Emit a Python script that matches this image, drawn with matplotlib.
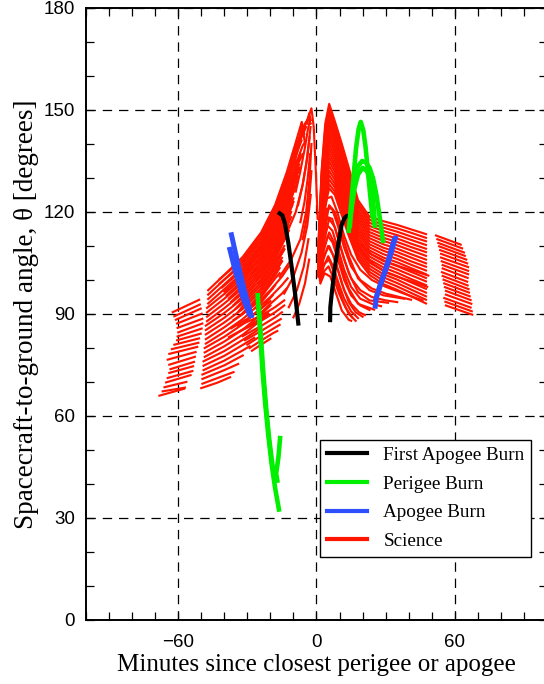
import numpy as np
import matplotlib
matplotlib.use("Agg")
import matplotlib.pyplot as plt
from matplotlib.lines import Line2D
from matplotlib.ticker import MultipleLocator

# ---------------- data (minutes, degrees) ----------------
# far-left science block: each pass is a short segment (start -> end)
farleft_x0 = [-62.8, -62.1, -61.4, -60.9, -60.7, -60.4, -60.7, -60.9, -62.1, -63.2,
              -64.3, -65.0, -64.3, -63.8, -64.3, -65.0, -65.7, -66.4, -67.2, -68.6]
farleft_y0 = [90.4, 89.2, 88.2, 87.1, 85.8, 84.5, 83.3, 82.2, 80.9, 79.6,
              78.2, 76.5, 75.0, 73.7, 72.6, 71.1, 69.8, 68.4, 67.2, 65.9]
farleft_x1 = [-50.5, -50.2, -49.8, -49.4, -49.1, -49.1, -49.4, -49.8, -50.5, -50.8,
              -51.3, -52.0, -52.3, -52.7, -53.1, -53.4, -54.2, -56.0, -56.6, -57.0]
farleft_y1 = [94.3, 92.9, 91.7, 90.2, 88.7, 87.3, 85.8, 84.3, 82.9, 81.6,
              80.4, 78.9, 77.5, 76.0, 74.7, 73.3, 72.1, 70.1, 68.4, 68.1]

# far-right science block
farright_x0 = [51.4, 52.0, 52.4, 52.8, 53.2, 53.6, 53.6, 53.9, 54.3, 54.3,
               54.0, 54.3, 54.7, 55.0, 55.3, 55.7, 55.7, 55.0, 55.5, 55.7]
farright_y0 = [113.2, 112.1, 111.0, 110.0, 108.9, 107.8, 106.7, 105.6, 104.5, 103.5,
               102.4, 101.3, 100.2, 99.1, 98.0, 96.9, 95.8, 94.8, 93.7, 92.6]
farright_x1 = [63.0, 63.6, 64.4, 64.8, 65.4, 65.8, 66.2, 66.2, 66.2, 66.0,
               65.8, 66.0, 66.4, 66.6, 66.9, 67.3, 67.6, 67.3, 67.8, 68.0]
farright_y1 = [110.3, 109.2, 108.0, 107.0, 105.9, 104.8, 103.7, 102.6, 101.6, 100.5,
               99.4, 98.3, 97.2, 96.2, 95.1, 94.0, 92.9, 91.8, 90.7, 89.7]

# science passes before perigee/apogee (rising fan)
left_fan = [
    [(-47, 97), (-40, 101.5), (-32, 106.8), (-24, 114), (-18, 122), (-13, 131.5), (-9, 140.5), (-6.4, 146.5), (-5.3, 143)],
    [(-47, 95.7), (-40, 100.1), (-32, 105.3), (-24, 112.3), (-18, 120), (-13, 129.2), (-9, 137.9), (-6, 143.5), (-3.5, 148), (-2.2, 150.5), (-1.2, 145), (-0.3, 132), (0.5, 118)],
    [(-47, 94.4), (-40, 98.7), (-32, 103.7), (-24, 110.6), (-18, 118.1), (-13, 127), (-10.1, 137.7), (-8.5, 134)],
    [(-47, 93.1), (-40, 97.3), (-32, 102.2), (-24, 108.8), (-18, 116.1), (-13, 124.7), (-9, 132.8), (-6, 137)],
    [(-47.5, 91.8), (-40, 95.9), (-32, 100.7), (-24, 107.1), (-18, 114.1), (-13, 122.4), (-9, 130.2), (-7, 133)],
    [(-47.5, 90.5), (-40, 94.5), (-32, 99.2), (-24, 105.4), (-18, 112.2), (-13, 120.1), (-9, 127.7)],
    [(-47.5, 89.2), (-40, 93.1), (-32, 97.6), (-24, 103.7), (-18, 110.2), (-13, 117.9), (-10, 123)],
    [(-47.5, 87.9), (-40, 91.7), (-32, 96.1), (-24, 102), (-18, 108.2), (-13, 115.6), (-11, 118.5)],
    [(-48, 86.6), (-40, 90.3), (-32, 94.6), (-24, 100.2), (-18, 106.3), (-13, 113.3)],
    [(-48, 85.3), (-40, 88.9), (-32, 93.1), (-24, 98.5), (-18, 104.3), (-14, 109)],
    [(-48, 84), (-40, 87.5), (-32, 91.5), (-24, 96.8), (-18, 102.3), (-15, 105.5)],
    [(-48, 82.6), (-40, 86.1), (-32, 90), (-24, 95.1), (-18, 100.4), (-16, 102)],
    [(-48, 81.3), (-40, 84.7), (-32, 88.5), (-24, 93.4), (-18, 98.4)],
    [(-48.5, 80), (-40, 83.3), (-32, 87), (-24, 91.7), (-19, 95.5)],
    [(-48.5, 78.7), (-40, 81.9), (-32, 85.4), (-24, 89.9), (-20, 92.5)],
    [(-48.5, 77.4), (-40, 80.5), (-32, 83.9), (-24, 88.2), (-21, 90)],
    [(-49, 76.1), (-40, 79.1), (-32, 82.4), (-25, 85.5)],
    [(-49, 74.8), (-40, 77.7), (-32, 80.9), (-27, 83)],
    [(-49, 73.5), (-40, 76.3), (-32, 79.3), (-29, 80.5)],
    [(-49.5, 72.2), (-40, 74.9), (-32, 77.8)],
    [(-49.5, 70.9), (-40, 73.5), (-34, 75.3)],
    [(-49.5, 69.5), (-40, 71.9), (-36, 72.9)],
    [(-50, 68.2), (-43, 69.8), (-37.5, 71.4)],
    [(-42, 100.3), (-32, 106), (-24, 113.2), (-18, 121), (-13, 130.3), (-9, 139.2), (-7, 143), (-5, 146), (-3.5, 147.5), (-2.5, 146)],
    [(-42, 99), (-32, 104.5), (-24, 111.5), (-18, 119), (-13, 128.1), (-9, 136.6), (-6.5, 141)],
    [(-41, 97.8), (-32, 103), (-24, 109.7), (-18, 117.1), (-13, 125.9), (-9, 134), (-6, 139.5), (-4.5, 141)],
    [(-40, 96.6), (-32, 101.5), (-24, 108), (-18, 115.1), (-13, 123.5), (-9, 131.5), (-7.5, 134)],
    [(-39, 95.5), (-32, 100), (-24, 106.3), (-18, 113.2), (-13, 121.2), (-9, 129), (-8, 130.5)],
    [(-38, 94.6), (-32, 98.4), (-24, 104.5), (-18, 111.2), (-13, 119), (-10, 124)],
    [(-37, 93.6), (-32, 96.8), (-24, 102.8), (-18, 109.2), (-13, 116.7), (-11, 120)],
    [(-36, 92.6), (-32, 95.3), (-24, 101.1), (-18, 107.3), (-13, 114.4), (-12, 116)],
    [(-35, 91.6), (-32, 93.8), (-24, 99.3), (-18, 105.3), (-14, 110)],
    [(-34, 90.6), (-32, 92.3), (-24, 97.6), (-18, 103.3), (-15, 106.5)],
    [(-33, 89.6), (-24, 96), (-18, 101.3), (-16, 103.5)],
    [(-30, 104), (-24, 110.5), (-18, 118), (-13, 127), (-9, 136), (-6.5, 142), (-4.5, 145)],
    [(-30, 102.8), (-24, 109), (-18, 116), (-13, 124.8), (-9, 133.2), (-7, 137)],
    [(-29, 102.5), (-24, 107.2), (-18, 114.2), (-13, 122.5), (-9, 130.5), (-7.5, 133)],
    [(-28, 101.8), (-24, 105.5), (-18, 112.3), (-13, 120.2), (-9.5, 127)],
    [(-27, 101), (-24, 103.8), (-18, 110.3), (-13, 118), (-10.5, 122)],
    [(-26, 100), (-24, 102), (-18, 108.3), (-13, 115.5), (-11.5, 118)],
    [(-25, 99), (-18, 106.3), (-13, 113), (-12, 114.5)],
    [(-24, 97.5), (-18, 104.3), (-14, 109)],
    [(-23, 96), (-18, 102.3), (-15, 105.5)],
    [(-34, 86.5), (-24, 89.5), (-18, 92), (-14, 94)],
    [(-33, 85), (-24, 88), (-18, 90.5), (-14, 92.5)],
    [(-32, 83.5), (-24, 86.5), (-18, 89), (-15, 90.5)],
    [(-31, 82.3), (-24, 85), (-18, 87.5), (-15.5, 88.5)],
    [(-30, 81), (-24, 83.6), (-18, 86), (-16, 86.8)],
    [(-29, 80), (-24, 82.2), (-19, 84.3), (-17, 85)],
    [(-28, 79.2), (-24, 81), (-20, 82.7)],
    [(-26, 93), (-20, 97), (-15, 101), (-12, 104)],
    [(-26, 91.5), (-20, 95), (-15, 98.5), (-12.5, 100.5)],
    [(-25, 89.8), (-20, 93), (-15, 96), (-13, 97.5)],
    [(-36, 88.2), (-30, 91), (-24, 94.2), (-19, 97.5)],
    [(-37, 85.8), (-30, 88.6), (-24, 91.6), (-20, 93.8)],
    [(-38, 83.2), (-30, 86.2), (-24, 88.8), (-21, 90.2)],
    [(-20, 106), (-14, 112), (-9, 120), (-6, 128), (-4, 136), (-3, 142)],
    [(-16, 101), (-11, 106), (-7, 112), (-4.5, 120), (-3, 130), (-2.2, 140)],
    [(-14, 96), (-10, 101), (-6.5, 108), (-4, 116), (-2.5, 125)],
    [(-12, 92), (-8.5, 97), (-5.5, 104), (-3.5, 112)],
    [(-10, 89), (-7.5, 93), (-5, 99), (-3.2, 106)],
    [(-9, 126), (-7, 132), (-5, 139), (-3.8, 144), (-3, 146.5)],
    [(-8, 122), (-6, 128), (-4.5, 134), (-3.2, 141), (-2.6, 145)],
    [(-7, 117), (-5.2, 123), (-3.8, 130), (-2.8, 137)],
    [(-6, 112), (-4.3, 118), (-3, 125), (-2.2, 132)],
    [(-11, 133), (-10.1, 137.7), (-9.2, 134), (-8.5, 128)],
    [(-7.5, 140), (-6.4, 146.2), (-5.6, 143), (-5, 140)],
    [(-4, 146), (-3.2, 149), (-2.5, 147)],
]

# science passes after perigee/apogee (falling fan), sampled at common times
right_fan_x = [0.7, 2.2, 3.8, 5.5, 8, 11, 14, 18, 23, 29, 35, 41, 47.5]
right_fan_y = [
    [108.0, 132.0, 146.0, 151.8, 146.6, 140.0, 133.0, 123.5, 118.6, 117.3, 116.2, 114.9, 113.5],
    [107.6, 131.0, 144.7, 150.5, 145.5, 138.9, 132.0, 122.6, 117.7, 116.3, 115.2, 113.9, 112.4],
    [107.3, 130.0, 143.5, 149.2, 144.3, 137.8, 130.9, 121.7, 116.8, 115.4, 114.2, 112.8, 111.4],
    [106.9, 129.0, 142.2, 147.9, 143.2, 136.7, 129.9, 120.7, 115.9, 114.4, 113.2, 111.8, 110.3],
    [106.5, 128.0, 141.0, 146.6, 142.0, 135.6, 128.8, 119.8, 115.0, 113.4, 112.2, 110.7, 109.2],
    [106.2, 127.0, 139.7, 145.3, 140.9, 134.5, 127.8, 118.9, 114.1, 112.4, 111.2, 109.7, 108.2],
    [105.8, 126.0, 138.4, 143.9, 139.8, 133.4, 126.7, 118.0, 113.2, 111.5, 110.2, 108.7, 107.1],
    [105.4, 125.0, 137.2, 142.6, 138.6, 132.3, 125.6, 117.1, 112.3, 110.5, 109.2, 107.6, 106.0],
    [105.1, 124.0, 135.9, 141.3, 137.5, 131.2, 124.6, 116.1, 111.4, 109.5, 108.2, 106.6, 104.9],
    [104.7, 123.0, 134.7, 140.0, 136.3, 130.1, 123.5, 115.2, 110.5, 108.6, 107.2, 105.5, 103.9],
    [104.3, 122.0, 133.4, 138.7, 135.2, 129.0, 122.5, 114.3, 109.6, 107.6, 106.2, 104.5, 102.8],
    [103.9, 121.0, 132.1, 137.4, 134.0, 127.9, 121.4, 113.4, 108.7, 106.6, 105.2, 103.5, 101.7],
    [103.6, 120.0, 130.9, 136.1, 132.9, 126.8, 120.4, 112.4, 107.8, 105.6, 104.1, 102.4, 100.6],
    [103.2, 119.0, 129.6, 134.8, 131.8, 125.7, 119.3, 111.5, 106.9, 104.7, 103.1, 101.4, 99.6],
    [102.8, 118.0, 128.4, 133.5, 130.6, 124.6, 118.3, 110.6, 106.0, 103.7, 102.1, 100.3, 98.5],
    [102.5, 117.0, 127.1, 132.1, 129.5, 123.5, 117.2, 109.7, 105.1, 102.7, 101.1, 99.3, 97.4],
    [102.1, 116.0, 125.8, 130.8, 128.3, 122.4, 116.2, 108.8, 104.2, 101.7, 100.1, 98.2, 96.3],
    [101.7, 115.0, 124.6, 129.5, 127.2, 121.3, 115.1, 107.8, 103.3, 100.8, 99.1, 97.2, 95.2],
    [101.4, 114.0, 123.3, 128.2, 126.0, 120.2, 114.1, 106.9, 102.4, 99.8, 98.1, 96.2, 94.2],
    [101.0, 113.0, 122.0, 127.0, 125.0, 119.0, 113.0, 106.0, 101.5, 98.8, 97.1, 95.2, 93.1],
]
right_inner = [
    [(1.0, 104), (2.5, 116), (4.5, 124), (6.5, 124.5), (9, 120), (12, 113), (15, 107.5), (19, 103), (24, 100), (30, 98), (36, 96.5), (42, 95), (46, 94)],
    [(1.2, 101.5), (3, 113), (5.5, 122), (8, 120), (11, 113.5), (14, 107), (18, 100.5), (23, 97), (29, 95.5), (38, 94.5)],
    [(1.1, 103), (2.6, 114), (4.6, 121), (6.7, 121), (9, 116.5), (12, 109.5), (15, 104), (19, 100), (24, 97.5), (30, 96), (36, 95), (41, 94.2)],
    [(1.3, 101), (3, 111), (5.5, 118), (8, 115.5), (11, 108.5), (14, 102), (18, 96.5), (23, 94), (31, 93.3)],
    [(1.2, 102.3), (2.7, 112), (4.7, 118.5), (6.8, 118), (9, 113), (12, 106), (15, 100.5), (19, 97), (24, 95), (30, 94), (35, 93.5)],
    [(1.4, 100.5), (3, 109), (5.5, 114), (8, 110.5), (11, 103.5), (14, 97.5), (18, 93), (25, 91.3)],
    [(1.3, 101.8), (2.8, 110), (4.8, 116), (6.9, 114.5), (9.2, 109.5), (12, 103), (15, 98), (19, 94.5), (24, 93), (28, 92.3)],
    [(1.5, 100), (3, 107), (5.5, 110), (8, 106), (11, 99), (14, 93.5), (17, 90.5), (20, 89.2)],
    [(1.4, 101.2), (2.9, 108), (4.9, 113), (7, 111), (9.3, 106), (12, 100), (15, 95.5), (19, 92.5), (23, 91.2)],
    [(1.6, 99.5), (3, 104.5), (5.5, 106), (8, 101.5), (11, 94.5), (14, 90), (17, 88)],
    [(1.5, 100.8), (3, 106), (5, 110), (7.1, 107.5), (9.5, 102.5), (12, 97), (15, 93), (18.5, 90.5), (21, 89.7)],
    [(1.7, 99), (3.5, 102), (6, 101), (8.5, 96), (11, 91), (14, 88.3), (15, 88)],
    [(1.6, 100.3), (3.1, 104), (5.1, 107), (7.2, 104), (9.6, 99), (12, 94.5), (15, 90.8), (18, 88.8)],
    [(1.7, 99.8), (3.2, 102.5), (5.2, 104), (7.4, 100.5), (9.8, 96), (12.5, 92), (15.5, 89)],
    [(16, 112), (20, 108), (25, 104.5), (31, 102), (37, 100.5), (43, 99.2), (48, 98)],
    [(15, 113), (19, 110.5), (24, 107.5), (30, 105.5), (36, 104), (42, 102.7), (48.5, 101.3)],
]

# manoeuvre passes
first_apogee = [
    [(-16, 119.6), (-14.8, 119), (-13.7, 116.6), (-12.2, 110.8), (-10.8, 103.9), (-9.3, 96), (-7.9, 87.2)],
    [(5.9, 88.2), (6, 92), (6.6, 96), (8, 103.9), (9.5, 110.8), (10.9, 116.2), (12.2, 118.3), (13.1, 118.8), (14.5, 119)],
]
perigee = [
    [(-25.5, 95.5), (-24.5, 85), (-23.5, 74), (-22.3, 64), (-21, 55), (-19.5, 46), (-18, 39), (-16.3, 32.5)],
    [(-25, 92), (-24, 82), (-23, 72), (-21.8, 62), (-20.5, 53), (-19, 45), (-18, 42)],
    [(-15.8, 53.5), (-16.5, 48), (-17.5, 43), (-17, 41)],
    [(14, 114.5), (15, 122), (16, 130), (17.2, 139), (18.3, 144.5), (19.2, 146.5), (20.3, 144), (21.3, 139), (22.3, 132), (23.3, 125), (24.2, 119), (25, 117)],
    [(14.5, 116), (15.5, 124), (16.5, 130), (18, 133.5), (19.8, 135), (21.5, 134.5), (23, 133), (24.5, 130), (26, 125), (27.3, 119), (28.3, 114), (28.8, 111.5)],
    [(15, 120), (16.5, 127), (18, 131), (20, 133), (22, 132), (24, 127), (25, 120), (25.3, 116)],
]
apogee = [
    [(-36.9, 113.3), (-34.5, 106), (-31.5, 97.5), (-28.3, 89.5)],
    [(-37.6, 109), (-35, 102), (-32, 95), (-29.2, 90)],
    [(34.2, 112.3), (31.5, 106), (28.5, 100), (26, 95), (25.5, 92.3)],
    [(33.5, 111.5), (30.8, 105), (27.8, 99), (25.8, 94.5)],
]

RED = "#ff1400"
GREEN = "#00f000"
BLUE = "#2f4fff"
BLACK = "#000000"

# ---------------- figure ----------------
fig = plt.figure(figsize=(5.44, 6.84), dpi=100)
ax = fig.add_axes([86 / 544, 64 / 684, 461 / 544, 612 / 684])

sci_lw = 1.55
for x0, y0, x1, y1 in zip(farleft_x0, farleft_y0, farleft_x1, farleft_y1):
    ax.plot([x0, x1], [y0, y1], color=RED, lw=sci_lw, solid_capstyle="butt", zorder=2)
for x0, y0, x1, y1 in zip(farright_x0, farright_y0, farright_x1, farright_y1):
    ax.plot([x0, x1], [y0, y1], color=RED, lw=sci_lw, solid_capstyle="butt", zorder=2)
for seg in left_fan:
    xs, ys = zip(*seg)
    ax.plot(xs, ys, color=RED, lw=sci_lw, zorder=2)
for row in right_fan_y:
    ax.plot(right_fan_x, row, color=RED, lw=sci_lw, zorder=2)
for seg in right_inner:
    xs, ys = zip(*seg)
    ax.plot(xs, ys, color=RED, lw=sci_lw, zorder=2)

for seg in first_apogee:
    xs, ys = zip(*seg)
    ax.plot(xs, ys, color=BLACK, lw=3.0, zorder=3)
for seg in perigee:
    xs, ys = zip(*seg)
    ax.plot(xs, ys, color=GREEN, lw=3.3, zorder=3)
for seg in apogee:
    xs, ys = zip(*seg)
    ax.plot(xs, ys, color=BLUE, lw=3.6, zorder=3)

ax.set_xlim(-100, 100)
ax.set_ylim(0, 180)
ax.xaxis.set_major_locator(MultipleLocator(60))
ax.xaxis.set_minor_locator(MultipleLocator(10))
ax.yaxis.set_major_locator(MultipleLocator(30))
ax.yaxis.set_minor_locator(MultipleLocator(10))
ax.grid(True, which="major", color="black", lw=0.9, ls=(0, (7.5, 5.5)), zorder=0)
ax.set_axisbelow(True)
ax.tick_params(which="both", direction="in", top=True, right=True, length=6, width=0.9)
ax.tick_params(axis="x", pad=10)
ax.tick_params(axis="y", pad=8)
for lab in ax.get_xticklabels() + ax.get_yticklabels():
    lab.set_fontfamily("Liberation Sans")
    lab.set_fontsize(13.5)
for sp in ax.spines.values():
    sp.set_linewidth(1.4)

ax.set_xlabel("Minutes since closest perigee or apogee", fontfamily="Liberation Serif",
              fontsize=18, labelpad=2)
ax.set_ylabel("Spacecraft-to-ground angle, \u03b8 [degrees]", fontfamily="Liberation Serif",
              fontsize=19.5, labelpad=3)

handles = [Line2D([], [], color=BLACK, lw=3.0), Line2D([], [], color=GREEN, lw=3.0),
           Line2D([], [], color=BLUE, lw=3.0), Line2D([], [], color=RED, lw=3.0)]
labels = ["First Apogee Burn", "Perigee Burn", "Apogee Burn", "Science"]
leg = ax.legend(handles, labels, loc="upper left", bbox_to_anchor=(0.508, 0.294),
                prop={"family": "Liberation Serif", "size": 13.8}, fancybox=False,
                framealpha=1, edgecolor="black", handlelength=2.1, handletextpad=0.85,
                labelspacing=0.58, borderpad=0.35, borderaxespad=0)
leg.get_frame().set_linewidth(1.0)
leg.set_zorder(5)

fig.savefig("out.png", dpi=100)
